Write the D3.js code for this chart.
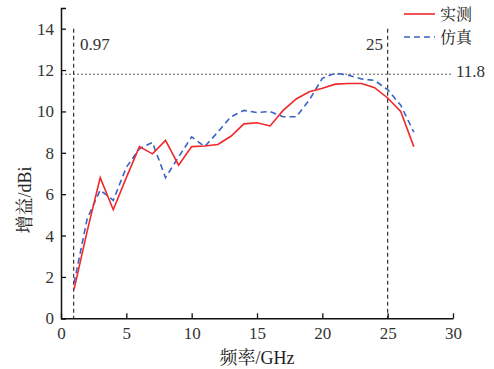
<!DOCTYPE html>
<html><head><meta charset="utf-8">
<script src="https://cdn.jsdelivr.net/npm/d3@7"></script>
<style>
body{margin:0;background:#fff;}
svg{display:block;}
</style></head>
<body><svg id="c" width="494" height="369"></svg>
<script>
const freq = [1,2,3,4,5,6,7,8,9,10,11,12,13,14,15,16,17,18,19,20,21,22,23,24,25,26,27];
const measured = [1.4,4.2,6.8,5.25,6.8,8.3,7.95,8.6,7.4,8.3,8.33,8.4,8.8,9.4,9.45,9.3,10.05,10.6,10.95,11.12,11.32,11.35,11.35,11.15,10.65,10.0,8.3];
const simulated = [1.7,4.8,6.2,5.7,7.3,8.2,8.5,6.8,7.8,8.77,8.3,9.0,9.74,10.05,9.95,10.0,9.74,9.74,10.55,11.6,11.85,11.75,11.57,11.5,11.05,10.3,9.0];
const xTicks = [0,5,10,15,20,25,30];
const yTicks = [0,2,4,6,8,10,12,14];
const seriesNames = ["实测","仿真"];
const markFreqs = [0.97,25];
const markGain = 11.8;

const serif = "Liberation Serif, Times New Roman, serif";
const cjk = "Noto Serif CJK SC, Noto Sans CJK SC, serif";
const svg = d3.select("#c");
const x = d3.scaleLinear().domain([0,30]).range([61,453]);
const y = d3.scaleLinear().domain([0,15]).range([318.3,8]);

// reference lines
markFreqs.forEach(f=>{
  svg.append("line").attr("x1",x(f)).attr("x2",x(f)).attr("y1",y(14)).attr("y2",y(0))
    .attr("stroke","#222").attr("stroke-width",1.1).attr("stroke-dasharray","4,3");
});
svg.append("line").attr("x1",x(0)).attr("x2",x(30)).attr("y1",y(markGain)).attr("y2",y(markGain))
  .attr("stroke","#333").attr("stroke-width",0.8).attr("stroke-dasharray","2,2");

// axes
const xa = svg.append("g").attr("transform",`translate(0,${y(0)})`)
  .call(d3.axisBottom(x).tickValues(xTicks).tickSizeInner(-5).tickSizeOuter(0).tickPadding(9));
const ya = svg.append("g").attr("transform",`translate(${x(0)},0)`)
  .call(d3.axisLeft(y).tickValues(yTicks).tickSizeInner(-5).tickSizeOuter(-5).tickPadding(7));
[xa,ya].forEach(g=>{
  g.attr("font-family",serif).attr("font-size",17);
  g.select(".domain").attr("stroke","#111").attr("stroke-width",1.5);
  g.selectAll(".tick line").attr("stroke","#111").attr("stroke-width",1.3);
  g.selectAll("text").style("font-family",serif).attr("font-size",17).attr("fill","#333");
});

// lines
const line = d3.line().x((d,i)=>x(freq[i])).y(d=>y(d));
svg.append("path").datum(simulated).attr("d",line).attr("fill","none")
  .attr("stroke","#3a62c4").attr("stroke-width",1.6).attr("stroke-dasharray","6,4");
svg.append("path").datum(measured).attr("d",line).attr("fill","none")
  .attr("stroke","#f0282a").attr("stroke-width",1.6);

// annotations
const ann = (tx,ty,anchor,t)=>svg.append("text").attr("x",tx).attr("y",ty).attr("text-anchor",anchor)
  .style("font-family",serif).attr("font-size",17).attr("fill","#333").text(t);
ann(80,50,"start","0.97");
ann(383,49.5,"end","25");
ann(456,77,"start",String(markGain));

// legend
const leg = [{n:seriesNames[0],c:"#f0282a",d:null,y:14},{n:seriesNames[1],c:"#3a62c4",d:"6,4",y:37}];
leg.forEach(l=>{
  svg.append("line").attr("x1",404).attr("x2",435).attr("y1",l.y).attr("y2",l.y)
    .attr("stroke",l.c).attr("stroke-width",1.6).attr("stroke-dasharray",l.d);
  svg.append("text").attr("x",440).attr("y",l.y).attr("dy","0.36em").style("font-family",cjk)
    .attr("font-size",16).attr("fill","#222").text(l.n);
});

// axis titles
const xt = svg.append("text").attr("x",257).attr("y",364).attr("text-anchor","middle").attr("fill","#222").attr("font-size",18);
xt.append("tspan").style("font-family",cjk).text("频率");
xt.append("tspan").style("font-family",serif).text("/GHz");
const yt = svg.append("text").attr("transform","translate(31,200) rotate(-90)").attr("text-anchor","middle").attr("fill","#222").attr("font-size",18);
yt.append("tspan").style("font-family",cjk).text("增益");
yt.append("tspan").style("font-family",serif).text("/dBi");
</script></body></html>
